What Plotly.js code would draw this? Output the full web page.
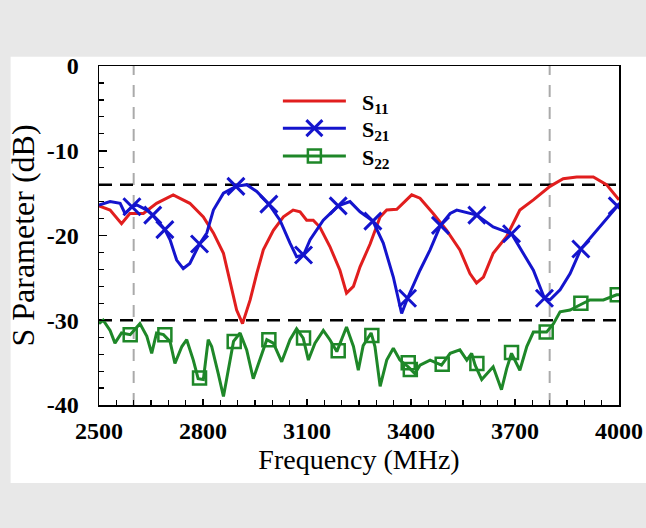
<!DOCTYPE html>
<html>
<head>
<meta charset="utf-8">
<script src="https://cdn.plot.ly/plotly-3.0.1.min.js"></script>
<style>html,body{margin:0;padding:0;background:#e8e8e8;}#chart{width:646px;height:528px;}</style>
</head>
<body>
<div id="chart"></div>
<script>
// S11 (red)
const s11Freq = [2500,2532,2565,2589,2628,2666,2714,2762,2801,2830,2859,2878,2897,2914,2936,2955,2974,3003,3032,3060,3080,3099,3118,3137,3166,3195,3214,3234,3253,3282,3311,3330,3359,3402,3426,3464,3503,3541,3570,3589,3609,3637,3676,3714,3753,3801,3839,3878,3926,3964,4000];
const s11Val  = [-16.5,-17.0,-18.6,-17.4,-17.4,-16.2,-15.2,-16.2,-17.8,-19.7,-22.1,-25.6,-28.8,-30.4,-27.6,-24.5,-21.7,-19.4,-17.8,-17.0,-17.2,-18.2,-18.2,-19.0,-21.3,-24.1,-26.8,-26.0,-23.7,-21.0,-17.8,-17.0,-16.9,-15.2,-15.6,-17.4,-19.4,-21.7,-24.5,-25.6,-24.9,-22.1,-20.1,-17.0,-15.8,-14.2,-13.3,-13.1,-13.1,-14.0,-15.8];

// S21 (blue)
const s21Freq = [2500,2532,2561,2575,2595,2609,2638,2655,2690,2705,2724,2743,2762,2790,2811,2830,2859,2895,2926,2955,2990,3022,3051,3070,3090,3109,3147,3190,3224,3253,3290,3320,3349,3373,3390,3426,3455,3485,3513,3532,3590,3637,3690,3724,3753,3785,3801,3830,3859,3890,3936,4000];
const s21Val  = [-16.4,-16.0,-16.2,-17.4,-16.6,-16.4,-17.0,-17.6,-19.3,-20.5,-22.9,-23.9,-23.3,-21.0,-19.7,-17.0,-15.0,-14.2,-14.0,-14.8,-16.3,-18.2,-20.9,-22.5,-22.3,-20.5,-18.2,-16.5,-16.0,-17.2,-18.3,-20.9,-24.9,-29.2,-27.4,-24.1,-21.7,-18.8,-17.4,-17.0,-17.6,-19.0,-19.8,-22.1,-24.1,-27.4,-27.6,-26.4,-24.5,-21.6,-19.4,-16.3];
const s21MarkFreq = [2595,2655,2690,2790,2895,2990,3090,3190,3290,3390,3485,3590,3690,3785,3890,3995];
const s21MarkVal  = [-16.6,-17.6,-19.3,-21.0,-14.2,-16.3,-22.3,-16.5,-18.3,-27.4,-18.8,-17.6,-19.8,-27.4,-21.6,-16.5];

// S22 (green)
const s22Freq = [2500,2512,2532,2546,2565,2590,2618,2638,2652,2666,2686,2705,2719,2739,2753,2772,2786,2801,2815,2825,2844,2859,2868,2888,2907,2926,2945,2964,2984,3003,3027,3051,3070,3089,3104,3123,3147,3166,3186,3214,3234,3248,3262,3285,3296,3311,3330,3349,3368,3392,3411,3426,3455,3488,3513,3541,3561,3575,3585,3604,3619,3637,3661,3676,3690,3714,3734,3753,3791,3811,3830,3859,3887,3916,3955,3993,4000];
const s22Val  = [-30.4,-30.0,-31.2,-32.7,-31.5,-31.7,-30.4,-31.9,-33.9,-31.5,-31.7,-32.5,-35.1,-33.1,-32.3,-34.7,-36.9,-37.0,-32.3,-33.1,-36.3,-39.0,-37.0,-32.5,-31.5,-33.5,-36.9,-34.7,-32.3,-32.7,-34.9,-32.3,-31.0,-32.1,-34.7,-32.7,-31.2,-32.3,-33.7,-30.8,-33.1,-35.9,-33.0,-31.5,-33.1,-37.8,-34.7,-33.3,-34.7,-35.5,-36.3,-35.3,-34.7,-35.3,-33.9,-33.5,-34.7,-33.9,-35.3,-37.0,-36.3,-35.5,-38.2,-35.7,-33.9,-35.9,-33.1,-31.4,-31.4,-30.4,-29.0,-28.8,-28.2,-27.6,-27.6,-27.0,-27.0];
const s22MarkFreq = [2590,2690,2790,2890,2990,3090,3190,3287,3392,3398,3490,3590,3690,3790,3890,3995];
const s22MarkVal  = [-31.7,-31.7,-36.8,-32.5,-32.3,-32.1,-33.6,-31.8,-35.0,-35.8,-35.2,-35.1,-33.8,-31.4,-28.0,-27.0];

// reference lines
const refFreqs = [2600, 3800];
const refLevels = [-14, -30];

const yTickVals = [-40,-30,-20,-10,0];
const yTickText = ['-40','-30','-20','-10','0'];

const seriesNames = ['S<sub>11</sub>', 'S<sub>21</sub>', 'S<sub>22</sub>'];

const RED = 'rgb(225,30,30)', BLUE = 'rgb(20,20,205)', GREEN = 'rgb(30,135,40)';
const serif = '"Liberation Serif", "Times New Roman", serif';
const NB = '\u00a0\u00a0';

const xMarker = {symbol:'x-thin-open', size:17, color:BLUE, line:{color:BLUE, width:3}};
const sqMarker = {symbol:'square-open', size:13, color:GREEN, line:{color:GREEN, width:2.5}};

const traces = [
  {x:s11Freq, y:s11Val, mode:'lines', line:{color:RED, width:3}, showlegend:false},
  {x:s21Freq, y:s21Val, mode:'lines', line:{color:BLUE, width:3}, showlegend:false},
  {x:s21MarkFreq, y:s21MarkVal, mode:'markers', marker:xMarker, showlegend:false},
  {x:s22Freq, y:s22Val, mode:'lines', line:{color:GREEN, width:3}, showlegend:false},
  {x:s22MarkFreq, y:s22MarkVal, mode:'markers', marker:sqMarker, showlegend:false},
  {x:[null], y:[null], mode:'lines', name:NB + seriesNames[0], line:{color:RED, width:3}, legend:'legend'},
  {x:[null], y:[null], mode:'lines+markers', name:NB + seriesNames[1], line:{color:BLUE, width:3}, marker:xMarker, legend:'legend2'},
  {x:[null], y:[null], mode:'lines+markers', name:NB + seriesNames[2], line:{color:GREEN, width:3}, marker:sqMarker, legend:'legend3'}
];

const shapes = [
  {type:'rect', xref:'paper', yref:'paper', x0:-0.17, x1:1.06, y0:-0.23, y1:1.027, fillcolor:'white', line:{width:0}, layer:'below'}
];
refFreqs.forEach(f => shapes.push({type:'line', xref:'x', yref:'y', x0:f, x1:f, y0:-40, y1:0, line:{color:'#aaaaaa', width:2, dash:'12px,10px'}, layer:'below'}));
refLevels.forEach(v => shapes.push({type:'line', xref:'x', yref:'y', x0:2500, x1:4000, y0:v, y1:v, line:{color:'black', width:2.5, dash:'13px,8px'}, layer:'below'}));

const legFont = {family:serif, size:22, color:'black', weight:'bold'};
function leg(y) {
  return {x:0.344, y:y, xanchor:'left', yanchor:'top', bgcolor:'rgba(0,0,0,0)', itemwidth:63, font:legFont};
}

const layout = {
  width:646, height:528,
  paper_bgcolor:'#e8e8e8', plot_bgcolor:'white',
  margin:{l:99, r:27, t:66, b:123},
  showlegend:true,
  legend:leg(0.958), legend2:leg(0.878), legend3:leg(0.796),
  xaxis:{range:[2500,4000], tick0:2500, dtick:300, ticks:'inside', ticklen:6, tickwidth:1.5, tickcolor:'black',
         showline:true, linecolor:'black', linewidth:1.5, mirror:true, showgrid:false, zeroline:false,
         minor:{dtick:50, ticks:'inside', ticklen:5, tickwidth:1.2, tickcolor:'black'},
         tickfont:{family:serif, size:24, color:'black', weight:'bold'}, ticklabelstandoff:4,
         title:{text:'Frequency (MHz)', font:{family:serif, size:28, color:'black', weight:'normal'}, standoff:5}},
  yaxis:{range:[-40,0], tickvals:yTickVals, ticktext:yTickText, ticks:'inside', ticklen:8, tickwidth:1.5, tickcolor:'black',
         showline:true, linecolor:'black', linewidth:1.5, mirror:true, showgrid:false, zeroline:false,
         minor:{dtick:2, ticks:'inside', ticklen:5, tickwidth:1.2, tickcolor:'black'},
         tickfont:{family:serif, size:24, color:'black', weight:'bold'}, ticklabelstandoff:14,
         title:{text:'S Parameter (dB)', font:{family:serif, size:32, color:'black', weight:'normal'}, standoff:2}},
  shapes:shapes
};

Plotly.newPlot('chart', traces, layout, {displayModeBar:false, staticPlot:true});
</script>
</body>
</html>
